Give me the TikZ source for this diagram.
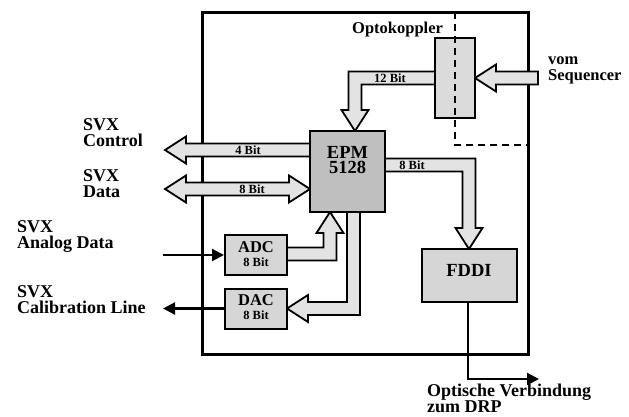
\documentclass[tikz,border=0pt]{standalone}
\usepackage{fontspec}
\setmainfont{Liberation Serif}
\usetikzlibrary{arrows.meta}
\begin{document}
\begin{tikzpicture}[x=1pt,y=-1pt,
  box/.style={draw,line width=2pt,inner sep=0pt},
  fat/.style={draw,line width=1.8pt,fill=gray!22,line join=miter},
  lbl/.style={font=\bfseries\fontsize{18}{16}\selectfont,anchor=base west,inner sep=0pt,align=left},
  lblb/.style={font=\bfseries\fontsize{16.5}{15.5}\selectfont,anchor=base west,inner sep=0pt,align=left},
  ctr/.style={font=\bfseries\fontsize{18.5}{15}\selectfont,anchor=base,inner sep=0pt,align=center},
  boxlbl/.style={font=\bfseries\fontsize{16.5}{14}\selectfont,anchor=base,inner sep=0pt,align=center},
  bitlbl/.style={font=\bfseries\fontsize{12.5}{12.5}\selectfont,anchor=base,inner sep=0pt},
  thinarrow/.style={line width=2.2pt,-{Triangle[length=12pt,width=12pt]}},
  divider/.style={line width=2.5pt,dash pattern=on 7pt off 5pt}
]
\useasboundingbox (0,0) rectangle (629,416);

% outer frame
\node[box,line width=3pt,minimum width=326pt,minimum height=342pt] (frame) at (365,183) {};

% dashed isolation line
\coordinate (dtop) at (455,12);
\coordinate (dcorner) at (455,145);
\coordinate (dright) at (528,145);

% fat arrows
% vom Sequencer -> Optokoppler
\draw[fat] (538,71.5)--(496,71.5)--(496,64.5)--(475,78)--(496,91.5)--(496,84.5)--(538,84.5)--cycle;
% 12 Bit: Optokoppler -> EPM
\draw[fat] (435,71.5)--(348.5,71.5)--(348.5,110)--(341.5,110)--(355,131)--(368.5,110)--(361.5,110)--(361.5,84.5)--(435,84.5)--cycle;
% 4 Bit: EPM -> SVX Control
\draw[fat] (310,143.5)--(186,143.5)--(186,136.5)--(165,150)--(186,163.5)--(186,156.5)--(310,156.5)--cycle;
% 8 Bit: EPM <-> SVX Data
\draw[fat] (289,182.5)--(186,182.5)--(186,175.5)--(165,189)--(186,202.5)--(186,195.5)--(289,195.5)--(289,202.5)--(310,189)--(289,175.5)--cycle;
% 8 Bit: EPM -> FDDI
\draw[fat] (385,158.5)--(475.5,158.5)--(475.5,228)--(482.5,228)--(469,249)--(455.5,228)--(462.5,228)--(462.5,171.5)--(385,171.5)--cycle;
% ADC -> EPM
\draw[fat] (287,247.5)--(323.5,247.5)--(323.5,233)--(316.5,233)--(330,212)--(343.5,233)--(336.5,233)--(336.5,260.5)--(287,260.5)--cycle;
% EPM -> DAC
\draw[fat] (347,212)--(347,302)--(308,302)--(308,295)--(287,308.5)--(308,322)--(308,315)--(360,315)--(360,212)--cycle;

% boxes
\node[box,fill=gray!28,minimum width=40pt,minimum height=80pt] (opto) at (455,78) {};
\node[box,fill=gray!50,minimum width=75pt,minimum height=81pt] (epm) at (347.5,171.5) {};
\node[box,fill=gray!32,minimum width=95pt,minimum height=53pt] (fddi) at (469.5,275.5) {};
\node[box,fill=gray!32,minimum width=62pt,minimum height=40pt] (adc) at (256,255) {};
\node[box,fill=gray!32,minimum width=62pt,minimum height=40pt] (dac) at (256,308.5) {};

\draw[divider] (dtop) -- (dcorner) -- (dright);

% box texts (anchor = baseline of last line)
\node[ctr] (epmtext) at (347.5,173) {EPM\\5128};
\node[ctr] (fdditext) at (469,276) {FDDI};
\node[boxlbl] (adctext) at (256,266) {ADC\\{\fontsize{12.5}{12.5}\selectfont 8 Bit}};
\node[boxlbl] (dactext) at (256,319) {DAC\\{\fontsize{12.5}{12.5}\selectfont 8 Bit}};

% bit labels
\node[bitlbl] (b12) at (390,82) {12 Bit};
\node[bitlbl] (b4) at (248,154) {4 Bit};
\node[bitlbl] (b8a) at (252,193) {8 Bit};
\node[bitlbl] (b8b) at (412,169) {8 Bit};

% thin connectors
\coordinate (analogin) at (163,255);
\coordinate (calout) at (163,308.5);
\coordinate (fddibend) at (468,379);
\coordinate (drp) at (539,379);
\draw[thinarrow] (analogin) -- (adc.west);
\draw[thinarrow] (dac.west) -- (calout);
\draw[thinarrow] (fddi.south -| fddibend) -- (fddibend) -- (drp);

% labels (anchor = baseline of last line)
\node[lblb] (optolbl) at (352,33) {Optokoppler};
\node[lblb] (seqlbl) at (548,80) {vom\\Sequencer};
\node[lbl] (ctrllbl) at (83,146) {SVX\\Control};
\node[lbl] (datalbl) at (83,197) {SVX\\Data};
\node[lbl] (analoglbl) at (17,248) {SVX\\Analog Data};
\node[lbl] (callbl) at (17,313) {SVX\\Calibration Line};
\node[lbl] (drplbl) at (427,412) {Optische Verbindung\\zum DRP};
\end{tikzpicture}
\end{document}
